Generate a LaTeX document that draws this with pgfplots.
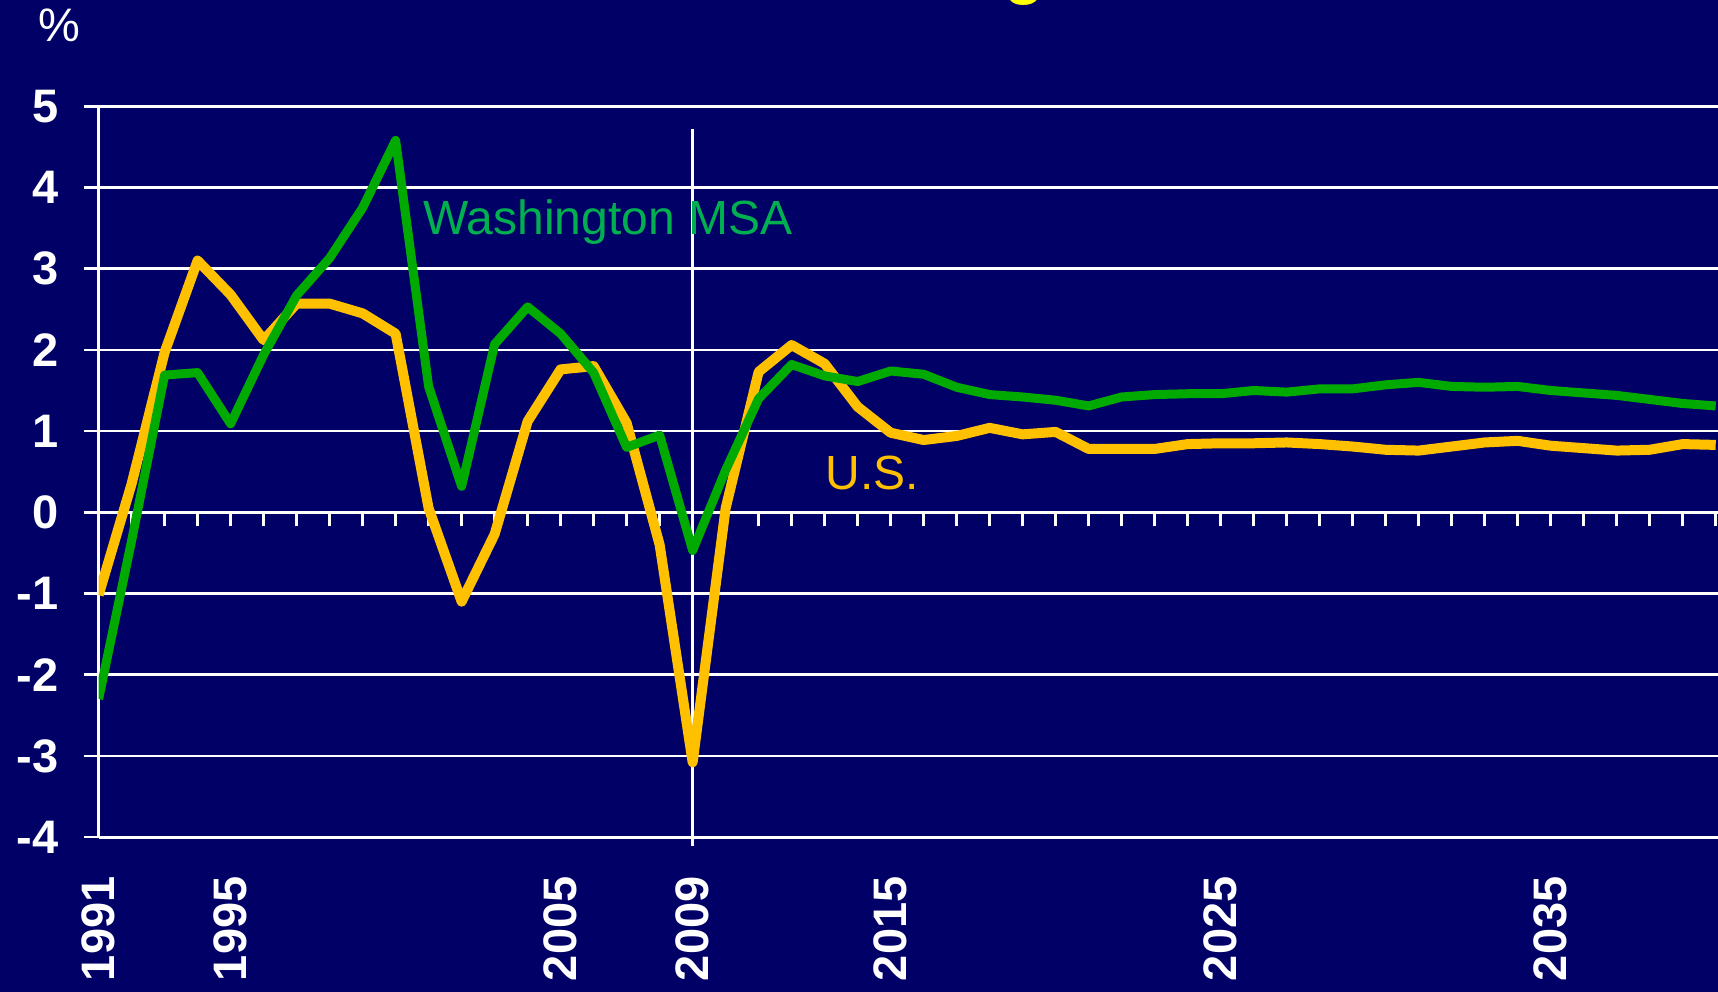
\documentclass[border=0pt]{standalone}
\usepackage{fontspec}
\setmainfont{Liberation Sans}
\usepackage{pgfplots}
\usepackage{pgfplotstable}
\pgfplotsset{compat=1.18}
\definecolor{bg}{RGB}{0,0,102}
\definecolor{usy}{RGB}{255,192,0}
\definecolor{wg}{RGB}{0,170,0}
\definecolor{wgt}{RGB}{0,176,80}
\definecolor{ttl}{RGB}{255,255,0}
\newcommand\yfont{\fontsize{23.5bp}{28bp}\selectfont\bfseries}

\pgfplotstableread{
year us wash
1991 -1.02 -2.30
1992 0.35 -0.35
1993 1.97 1.69
1994 3.10 1.72
1995 2.68 1.09
1996 2.12 1.94
1997 2.57 2.67
1998 2.57 3.13
1999 2.45 3.75
2000 2.20 4.58
2001 0.05 1.55
2002 -1.10 0.32
2003 -0.27 2.07
2004 1.12 2.53
2005 1.76 2.20
2006 1.80 1.72
2007 1.10 0.80
2008 -0.40 0.95
2009 -3.08 -0.47
2010 0.05 0.52
2011 1.73 1.40
2012 2.06 1.82
2013 1.83 1.68
2014 1.30 1.61
2015 0.98 1.74
2016 0.89 1.70
2017 0.94 1.54
2018 1.04 1.45
2019 0.96 1.42
2020 0.99 1.38
2021 0.78 1.31
2022 0.78 1.42
2023 0.78 1.45
2024 0.84 1.46
2025 0.85 1.46
2026 0.85 1.50
2027 0.86 1.48
2028 0.84 1.52
2029 0.81 1.52
2030 0.77 1.57
2031 0.76 1.60
2032 0.81 1.55
2033 0.86 1.54
2034 0.88 1.55
2035 0.82 1.50
2036 0.79 1.47
2037 0.76 1.44
2038 0.77 1.39
2039 0.84 1.34
2040 0.83 1.31
}\data

\begin{document}
\begin{tikzpicture}
\path[use as bounding box, fill=bg] (0,0) rectangle (859bp,496bp);
% background axis: grid, y axis, labels
\begin{axis}[
  at={(49.3bp,77.45bp)}, anchor=south west,
  width=809.7bp, height=365.4bp, scale only axis,
  xmin=1991, xmax=2040.07, ymin=-4, ymax=5,
  axis y line*=left, axis x line*=bottom,
  axis line style={white, line width=1.5bp, -},
  ymajorgrids, grid style={white, line width=1.3bp},
  ytick={-4,...,5},
  yticklabels={-4,-3,-2,-1,0,1,2,3,4,5},
  xtick={1991,1995,2005,2009,2015,2025,2035},
  xticklabels={1991,1995,2005,2009,2015,2025,2035},
  tick align=outside, major tick length=7.5bp,
  ytick style={white, line width=1.3bp},
  xtick style={draw=none},
  yticklabel style={font=\yfont, text=white, anchor=east, inner sep=0pt, xshift=-12.5bp},
  xticklabel style={font=\yfont, text=white, inner sep=0pt, yshift=-12bp, rotate=90, anchor=east},
  clip=false,
]
\addplot[white, line width=1.5bp, forget plot] coordinates {(2009,4.72) (2009,-4.11)};
\end{axis}
% overlay axis: year ticks on the zero line and the series
\begin{axis}[
  at={(49.3bp,77.45bp)}, anchor=south west,
  width=809.7bp, height=365.4bp, scale only axis,
  xmin=1991, xmax=2040.07, ymin=-4, ymax=5,
  axis x line=middle, axis y line=none,
  x axis line style={draw=none},
  xtick={1992,...,2040}, xticklabels={},
  tick align=outside, major tick length=7bp,
  xtick style={white, line width=1.3bp},
]
\addplot[usy, line width=5bp, line join=round] table[x=year, y=us] {\data};
\addplot[wg, line width=4.5bp, line join=round] table[x=year, y=wash] {\data};
\end{axis}
\node[anchor=base west, inner sep=0pt, text=wgt, font=\fontsize{24bp}{28bp}\selectfont] at (211.5bp,378.5bp) {Washington MSA};
\node[anchor=base west, inner sep=0pt, text=usy, font=\fontsize{24bp}{28bp}\selectfont] at (412.5bp,251bp) {U.S.};
\node[inner sep=0pt, text=white, font=\fontsize{23.5bp}{28bp}\selectfont] at (29.5bp,483.5bp) {\%};
\node[anchor=base west, inner sep=0pt, text=ttl, font=\fontsize{33bp}{40bp}\selectfont\bfseries] at (502bp,500bp) {g};
\end{tikzpicture}
\end{document}
